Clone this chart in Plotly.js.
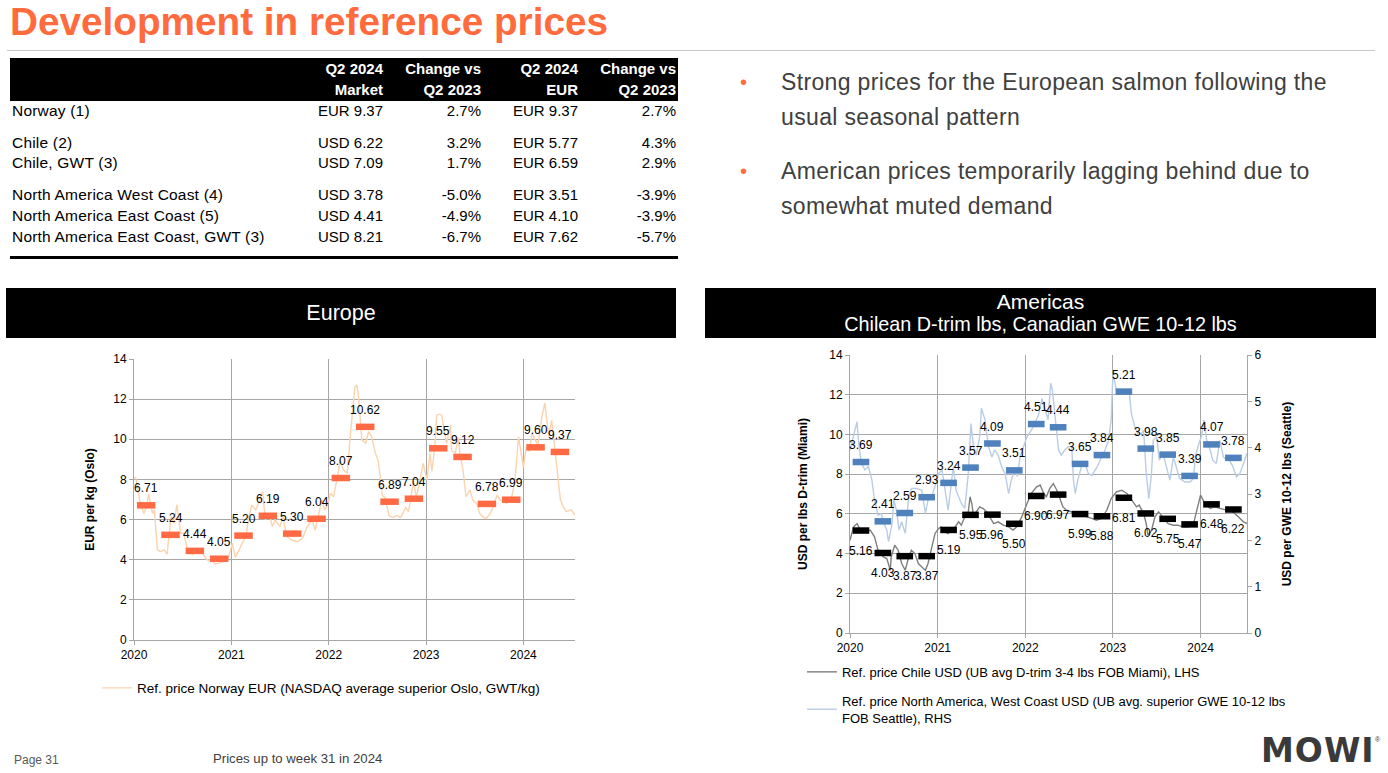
<!DOCTYPE html>
<html><head><meta charset="utf-8">
<script src="https://cdn.plot.ly/plotly-3.0.1.min.js"></script>
<style>
body{margin:0;width:1388px;height:773px;background:#fff;position:relative;overflow:hidden;font-family:"Liberation Sans",Arial,sans-serif;color:#000;}
.abs{position:absolute;white-space:nowrap;}
.hdr{position:absolute;background:#000;color:#fff;text-align:center;}
</style></head><body>

<div id="title" class="abs" style="left:10px;top:0px;font-size:38px;line-height:44px;font-weight:bold;color:#FF6B3D;transform-origin:0 50%;">Development in reference prices</div>
<div class="abs" style="left:7px;top:50px;width:1368px;height:1px;background:#C8C8C8;"></div>

<div id="table"></div>
<div id="bullets"></div>

<div class="hdr" style="left:6px;top:288px;width:670px;height:50px;"><div style="font-size:21.5px;line-height:50px;">Europe</div></div>
<div class="hdr" style="left:705px;top:288px;width:671px;height:50px;"><div style="font-size:21px;line-height:23px;margin-top:2px;">Americas</div><div style="font-size:19.8px;line-height:23px;">Chilean D-trim lbs, Canadian GWE 10-12 lbs</div></div>

<div id="europe" class="abs" style="left:0px;top:340px;width:700px;height:380px;"></div>
<div id="americas" class="abs" style="left:700px;top:340px;width:688px;height:430px;"></div>

<div class="abs" style="left:14px;top:753px;font-size:12px;color:#595959;">Page 31</div>
<div class="abs" style="left:213px;top:751px;font-size:13.2px;color:#404040;">Prices up to week 31 in 2024</div>
<div class="abs" style="left:1261px;top:733px;font-size:33px;line-height:36px;font-weight:900;color:#3A3A3A;letter-spacing:1px;font-family:'DejaVu Sans',sans-serif;">MOWI</div>
<div class="abs" style="left:1375px;top:736px;font-size:7px;line-height:8px;color:#3A3A3A;">®</div>

<script>
// ---------- table data ----------
const tableHeader1 = ['Q2 2024', 'Change vs', 'Q2 2024', 'Change vs'];
const tableHeader2 = ['Market', 'Q2 2023', 'EUR', 'Q2 2023'];
const tableLabels = ['Norway (1)', 'Chile (2)', 'Chile, GWT (3)', 'North America West Coast (4)', 'North America East Coast (5)', 'North America East Coast, GWT (3)'];
const tableMarket = ['EUR 9.37', 'USD 6.22', 'USD 7.09', 'USD 3.78', 'USD 4.41', 'USD 8.21'];
const tableMarketChg = ['2.7%', '3.2%', '1.7%', '-5.0%', '-4.9%', '-6.7%'];
const tableEur = ['EUR 9.37', 'EUR 5.77', 'EUR 6.59', 'EUR 3.51', 'EUR 4.10', 'EUR 7.62'];
const tableEurChg = ['2.7%', '4.3%', '2.9%', '-3.9%', '-3.9%', '-5.7%'];

const bulletTexts = [
  ['Strong prices for the European salmon following the', 'usual seasonal pattern'],
  ['American prices temporarily lagging behind due to', 'somewhat muted demand']
];

// ---------- chart data ----------
const quarters = ['2020Q1','2020Q2','2020Q3','2020Q4','2021Q1','2021Q2','2021Q3','2021Q4','2022Q1','2022Q2','2022Q3','2022Q4','2023Q1','2023Q2','2023Q3','2023Q4','2024Q1','2024Q2'];
const norwayQ = [6.71,5.24,4.44,4.05,5.20,6.19,5.30,6.04,8.07,10.62,6.89,7.04,9.55,9.12,6.78,6.99,9.60,9.37];
const chileQ  = [5.16,4.03,3.87,3.87,5.19,5.95,5.96,5.50,6.90,6.97,5.99,5.88,6.81,6.02,5.75,5.47,6.48,6.22];
const naQ     = [3.69,2.41,2.59,2.93,3.24,3.57,4.09,3.51,4.51,4.44,3.65,3.84,5.21,3.98,3.85,3.39,4.07,3.78];

const norwayX = [2020.00,2020.02,2020.06,2020.10,2020.13,2020.15,2020.19,2020.21,2020.24,2020.27,2020.31,2020.34,2020.38,2020.41,2020.44,2020.48,2020.51,2020.55,2020.60,2020.65,2020.70,2020.75,2020.79,2020.84,2020.92,2020.97,2021.01,2021.04,2021.08,2021.11,2021.15,2021.18,2021.21,2021.25,2021.28,2021.32,2021.35,2021.39,2021.42,2021.45,2021.50,2021.53,2021.57,2021.62,2021.68,2021.73,2021.78,2021.83,2021.86,2021.90,2021.93,2021.96,2021.98,2022.02,2022.05,2022.09,2022.12,2022.15,2022.19,2022.23,2022.27,2022.29,2022.31,2022.34,2022.38,2022.41,2022.44,2022.48,2022.51,2022.55,2022.58,2022.62,2022.66,2022.70,2022.74,2022.79,2022.82,2022.87,2022.90,2022.94,2022.97,2023.01,2023.04,2023.06,2023.09,2023.11,2023.13,2023.16,2023.19,2023.21,2023.25,2023.26,2023.30,2023.33,2023.35,2023.38,2023.41,2023.45,2023.48,2023.52,2023.55,2023.59,2023.62,2023.66,2023.69,2023.73,2023.76,2023.79,2023.83,2023.88,2023.91,2023.95,2023.97,2024.00,2024.03,2024.06,2024.09,2024.12,2024.15,2024.19,2024.22,2024.26,2024.29,2024.32,2024.35,2024.38,2024.41,2024.44,2024.49,2024.53];
const norwayY = [8.10,8.06,6.90,6.31,6.64,7.28,6.31,6.48,4.49,4.40,4.49,4.27,6.15,5.81,6.73,5.32,5.32,4.49,4.27,4.40,4.35,3.99,3.95,3.79,3.90,4.07,4.82,4.12,4.49,4.82,5.15,6.15,6.73,6.48,6.81,7.39,5.98,6.31,5.65,5.98,5.65,6.15,5.15,4.98,4.90,5.07,5.65,5.98,5.48,6.31,6.98,6.48,6.64,7.31,7.14,8.14,8.97,8.47,8.31,10.63,12.62,12.71,11.96,9.97,9.80,10.38,10.13,9.30,8.90,7.20,7.10,6.20,6.10,6.20,6.10,6.60,6.40,7.90,7.10,8.00,8.80,7.97,9.30,8.40,9.63,11.20,11.25,11.20,10.46,9.80,10.70,9.47,9.30,10.10,9.20,8.47,7.14,7.47,6.98,6.81,6.31,6.10,6.06,6.31,6.64,7.22,6.98,6.90,6.81,7.14,7.80,10.13,9.47,8.60,9.63,9.40,10.30,9.97,9.75,11.13,11.80,10.13,10.96,9.63,8.47,6.98,6.64,6.40,6.48,6.23];

const chileX = [2020.00,2020.04,2020.08,2020.11,2020.17,2020.23,2020.28,2020.32,2020.38,2020.42,2020.46,2020.47,2020.51,2020.55,2020.59,2020.63,2020.67,2020.70,2020.74,2020.78,2020.82,2020.86,2020.89,2020.93,2020.97,2021.01,2021.04,2021.08,2021.12,2021.16,2021.20,2021.24,2021.27,2021.31,2021.35,2021.37,2021.39,2021.41,2021.44,2021.48,2021.52,2021.56,2021.60,2021.64,2021.69,2021.75,2021.81,2021.86,2021.90,2021.96,2022.02,2022.07,2022.13,2022.17,2022.21,2022.24,2022.28,2022.32,2022.36,2022.40,2022.43,2022.47,2022.53,2022.59,2022.64,2022.70,2022.76,2022.81,2022.87,2022.93,2022.98,2023.04,2023.10,2023.16,2023.21,2023.27,2023.30,2023.35,2023.38,2023.40,2023.44,2023.48,2023.52,2023.55,2023.59,2023.63,2023.69,2023.74,2023.80,2023.86,2023.92,2023.95,2024.00,2024.05,2024.11,2024.16,2024.22,2024.30,2024.37,2024.43,2024.49,2024.53];
const chileY = [4.67,5.34,5.51,5.26,5.09,5.18,4.84,4.17,3.83,3.75,3.16,3.83,4.42,4.17,3.50,3.16,3.83,4.17,4.00,3.50,3.33,3.16,3.50,4.34,5.00,5.26,5.34,5.09,5.00,5.26,5.34,5.60,5.43,5.85,6.10,6.86,6.52,5.85,6.10,6.35,6.27,6.10,5.77,5.51,5.60,5.43,5.34,5.18,5.34,5.85,6.52,7.03,7.36,7.45,7.03,6.86,7.28,7.53,7.19,6.69,6.35,6.18,6.10,6.02,5.93,5.85,5.77,5.68,5.77,6.18,6.77,7.11,7.19,7.03,6.69,6.35,6.44,6.02,5.51,4.92,5.17,5.85,6.10,5.93,5.68,5.51,5.43,5.43,5.34,5.34,5.51,6.02,6.94,6.52,6.27,6.35,6.27,6.18,6.10,5.85,5.60,5.51];

const naX = [2020.00,2020.04,2020.08,2020.10,2020.13,2020.17,2020.21,2020.25,2020.28,2020.32,2020.36,2020.38,2020.42,2020.44,2020.48,2020.50,2020.53,2020.56,2020.59,2020.63,2020.67,2020.70,2020.76,2020.82,2020.86,2020.89,2020.93,2020.97,2021.01,2021.05,2021.08,2021.12,2021.16,2021.18,2021.21,2021.24,2021.27,2021.31,2021.35,2021.38,2021.41,2021.44,2021.48,2021.50,2021.54,2021.58,2021.62,2021.65,2021.69,2021.73,2021.77,2021.81,2021.84,2021.88,2021.91,2021.94,2021.98,2022.02,2022.07,2022.11,2022.15,2022.19,2022.22,2022.26,2022.29,2022.31,2022.34,2022.38,2022.41,2022.45,2022.49,2022.53,2022.55,2022.57,2022.60,2022.64,2022.68,2022.72,2022.76,2022.80,2022.83,2022.87,2022.91,2022.95,2022.98,2023.00,2023.04,2023.08,2023.12,2023.16,2023.19,2023.21,2023.25,2023.29,2023.33,2023.35,2023.38,2023.41,2023.44,2023.46,2023.50,2023.53,2023.57,2023.61,2023.65,2023.69,2023.72,2023.76,2023.82,2023.88,2023.92,2023.94,2023.97,2024.01,2024.04,2024.07,2024.11,2024.14,2024.18,2024.22,2024.26,2024.30,2024.33,2024.37,2024.41,2024.45,2024.49,2024.53];
const naY = [3.95,4.24,4.56,4.09,3.66,3.52,3.59,3.30,2.87,2.54,2.58,2.40,2.22,1.97,2.36,2.87,2.65,2.22,2.40,2.15,2.94,3.12,3.12,3.08,2.58,2.87,2.94,3.16,3.44,3.52,3.16,2.65,3.30,3.59,3.08,2.94,2.80,2.69,3.44,4.52,4.02,3.84,4.24,4.85,4.60,4.02,3.80,3.95,3.84,3.59,3.44,3.01,3.30,3.52,3.38,3.80,4.02,4.24,4.38,4.56,4.70,5.06,4.88,4.60,5.39,5.24,4.67,3.95,3.84,3.95,4.02,4.02,3.30,3.01,3.30,3.59,3.66,3.44,3.40,3.52,3.62,3.80,3.95,4.16,4.60,5.60,5.24,5.17,5.24,5.20,5.14,4.74,4.45,4.27,4.31,4.38,3.44,2.90,3.44,4.16,4.24,3.73,3.88,3.59,3.30,3.80,3.59,3.34,3.26,3.26,3.34,3.80,4.02,4.24,4.60,4.16,3.95,3.73,3.66,4.16,3.80,3.73,3.73,3.59,3.37,3.45,3.66,3.88];

const yearTicks = [2020, 2021, 2022, 2023, 2024];

// ---------- build table ----------
const colRight = [383, 481, 578, 676];
const rowMid = [111, 143, 163, 195, 216, 237];
let t = '<div class="abs" style="left:10px;top:58px;width:668px;height:43px;background:#000;"></div>';
for (let c = 0; c < 4; c++) {
  t += `<div class="abs" style="right:${1388-colRight[c]}px;top:59px;font-size:15px;line-height:20px;font-weight:bold;color:#fff;">${tableHeader1[c]}</div>`;
  t += `<div class="abs" style="right:${1388-colRight[c]}px;top:80px;font-size:15px;line-height:20px;font-weight:bold;color:#fff;">${tableHeader2[c]}</div>`;
}
const cols = [tableMarket, tableMarketChg, tableEur, tableEurChg];
for (let r = 0; r < tableLabels.length; r++) {
  t += `<div class="abs" style="left:12px;top:${rowMid[r]-10}px;font-size:15.5px;line-height:20px;letter-spacing:0.2px;">${tableLabels[r]}</div>`;
  for (let c = 0; c < 4; c++) {
    t += `<div class="abs" style="right:${1388-colRight[c]}px;top:${rowMid[r]-10}px;font-size:15px;line-height:20px;">${cols[c][r]}</div>`;
  }
}
t += '<div class="abs" style="left:10px;top:256px;width:668px;height:3px;background:#000;"></div>';
document.getElementById('table').innerHTML = t;

// ---------- bullets ----------
const bulletTop = [82, 171];
let b = '';
bulletTexts.forEach((lines, i) => {
  b += `<div class="abs" style="left:740px;top:${bulletTop[i]-15}px;font-size:20px;line-height:30px;color:#FF6B3D;">•</div>`;
  lines.forEach((ln, j) => {
    b += `<div class="abs bl" style="left:781px;top:${bulletTop[i]+35*j-15}px;font-size:23px;line-height:30px;letter-spacing:0.35px;color:#404040;">${ln}</div>`;
  });
});
document.getElementById('bullets').innerHTML = b;

// ---------- helpers ----------
function qStart(q) { return parseInt(q.slice(0, 4)) + (parseInt(q.slice(5)) - 1) * 0.25; }
function barTrace(vals, color, yaxis) {
  const xs = [], ys = [];
  quarters.forEach((q, i) => { const s = qStart(q); xs.push(s + 0.03, s + 0.22, null); ys.push(vals[i], vals[i], null); });
  return {x: xs, y: ys, mode: 'lines', line: {color: color, width: 6.5}, showlegend: false, hoverinfo: 'skip', yaxis: yaxis || 'y'};
}
function labelAnns(vals, yref, shift) {
  return quarters.map((q, i) => ({x: qStart(q) + 0.125, y: vals[i], xref: 'x', yref: yref, text: vals[i].toFixed(2), showarrow: false, yshift: shift, font: {size: 12, color: '#000'}}));
}
const fontFam = 'Liberation Sans, Arial, sans-serif';
const gridC = '#A6A6A6';
function xAxis() {
  return {range: [2020, 2024.53], tickvals: yearTicks, ticktext: yearTicks.map(String), showgrid: true, gridcolor: gridC, gridwidth: 1, showline: true, linecolor: gridC, linewidth: 1, ticks: 'outside', ticklen: 4, tickcolor: gridC, zeroline: false, tickfont: {size: 12}, fixedrange: true};
}

// ---------- Europe ----------
Plotly.newPlot('europe', [
  {x: norwayX, y: norwayY, mode: 'lines', line: {color: '#FBD3AE', width: 1.4}, name: 'Ref. price Norway EUR (NASDAQ average superior Oslo, GWT/kg)', hoverinfo: 'skip'},
  barTrace(norwayQ, '#FF6A45')
], {
  width: 700, height: 380, margin: {l: 134, r: 125, t: 19, b: 80},
  paper_bgcolor: 'rgba(0,0,0,0)', plot_bgcolor: '#fff',
  font: {family: fontFam, size: 12, color: '#000'},
  xaxis: xAxis(),
  yaxis: {range: [0, 14], dtick: 2, showgrid: true, gridcolor: gridC, gridwidth: 1, showline: true, linecolor: gridC, linewidth: 1, ticks: 'outside', ticklen: 4, tickcolor: gridC, zeroline: false, tickfont: {size: 12}, fixedrange: true,
          title: {text: '<b>EUR per kg (Oslo)</b>', font: {size: 12}, standoff: 16}},
  showlegend: true,
  legend: {x: -0.084, y: -0.171, xanchor: 'left', yanchor: 'middle', font: {size: 13.5}, bgcolor: 'rgba(0,0,0,0)'},
  annotations: labelAnns(norwayQ, 'y', 17)
}, {displayModeBar: false, staticPlot: true});

// ---------- Americas ----------
Plotly.newPlot('americas', [
  {x: chileX, y: chileY, mode: 'lines', line: {color: '#7F7F7F', width: 1.4}, name: 'Ref. price Chile USD (UB avg D-trim 3-4 lbs FOB Miami), LHS', legendgroup: 'a', hoverinfo: 'skip'},
  {x: naX, y: naY, yaxis: 'y2', mode: 'lines', line: {color: '#B9CDE5', width: 1.4}, name: 'Ref. price North America, West Coast USD (UB avg. superior GWE 10-12 lbs<br>FOB Seattle), RHS', legendgroup: 'b', hoverinfo: 'skip'},
  barTrace(chileQ, '#000000'),
  barTrace(naQ, '#4F81BD', 'y2')
], {
  width: 688, height: 430, margin: {l: 150, r: 141, t: 15, b: 137},
  paper_bgcolor: 'rgba(0,0,0,0)', plot_bgcolor: '#fff',
  font: {family: fontFam, size: 12, color: '#000'},
  xaxis: xAxis(),
  yaxis: {range: [0, 14], dtick: 2, showgrid: true, gridcolor: gridC, gridwidth: 1, showline: true, linecolor: gridC, linewidth: 1, ticks: 'outside', ticklen: 4, tickcolor: gridC, zeroline: false, tickfont: {size: 12}, fixedrange: true,
          title: {text: '<b>USD per lbs D-trim (Miami)</b>', font: {size: 12}, standoff: 19}},
  yaxis2: {range: [0, 6], dtick: 1, overlaying: 'y', side: 'right', showgrid: false, showline: true, linecolor: gridC, linewidth: 1, ticks: 'outside', ticklen: 4, tickcolor: gridC, zeroline: false, tickfont: {size: 12}, fixedrange: true,
          title: {text: '<b>USD per GWE 10-12 lbs (Seattle)</b>', font: {size: 12}, standoff: 22}},
  showlegend: true,
  legend: {x: -0.121, y: -0.086, xanchor: 'left', yanchor: 'top', font: {size: 13}, bgcolor: 'rgba(0,0,0,0)', traceorder: 'grouped', tracegroupgap: 9},
  annotations: labelAnns(naQ, 'y2', 17).concat(labelAnns(chileQ, 'y', -20))
}, {displayModeBar: false, staticPlot: true});

// fit title width
const tEl = document.getElementById('title');
const w = tEl.getBoundingClientRect().width;
tEl.style.transform = `scaleX(${598 / w})`;
</script>
</body></html>
